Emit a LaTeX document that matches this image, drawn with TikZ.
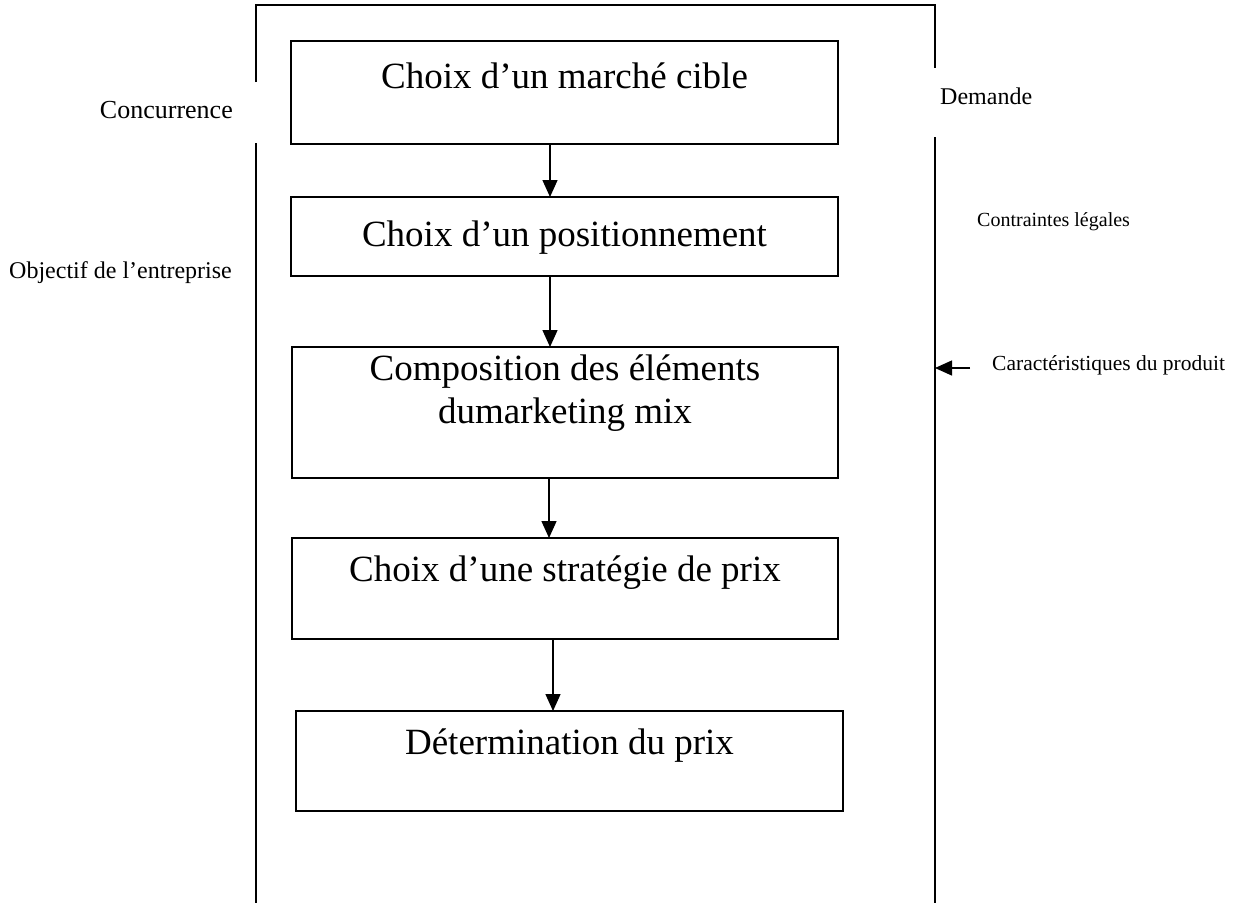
\documentclass[tikz,border=0pt]{standalone}
\usepackage{fontspec}
\setmainfont{Liberation Serif}
\usetikzlibrary{arrows.meta}

\tikzset{
  stepbox/.style={draw, line width=1.6pt, rectangle, inner sep=0pt, outer sep=0pt},
  boxtext/.style={anchor=base, inner sep=0pt, font=\fontsize{37}{43}\selectfont},
  sidetext/.style={inner sep=0pt},
  frame/.style={line width=1.6pt},
  flow/.style={line width=1.4pt, -{Triangle[length=17pt,width=15pt]}},
}

\begin{document}
\begin{tikzpicture}[x=1pt,y=-1pt]
  \useasboundingbox (0,0) rectangle (1238,903);
  \fill[white] (0,0) rectangle (1238,903);

  % frame corners
  \coordinate (ftl) at (256,5);
  \coordinate (ftr) at (935,5);

  % open frame around the steps
  \draw[frame] (256,82) -- (ftl) -- (ftr) -- (935,68);
  \draw[frame] (256,143) -- (256,903);
  \draw[frame] (935,137) -- (935,903);

  % steps
  \node[stepbox, minimum width=547pt, minimum height=103pt] (b1) at (564.5,92.5) {};
  \node[stepbox, minimum width=547pt, minimum height=79pt]  (b2) at (564.5,236.5) {};
  \node[stepbox, minimum width=546pt, minimum height=131pt] (b3) at (565,412.5) {};
  \node[stepbox, minimum width=546pt, minimum height=101pt] (b4) at (565,588.5) {};
  \node[stepbox, minimum width=547pt, minimum height=100pt] (b5) at (569.5,761) {};

  \node[boxtext] (t1)  at (564.5,88)  {Choix d’un marché cible};
  \node[boxtext] (t2)  at (564.5,246) {Choix d’un positionnement};
  \node[boxtext] (t3a) at (565,380)   {Composition des éléments};
  \node[boxtext] (t3b) at (565,423)   {dumarketing mix};
  \node[boxtext] (t4)  at (565,581)   {Choix d’une stratégie de prix};
  \node[boxtext] (t5)  at (569.5,754) {Détermination du prix};

  % flow between steps
  \draw[flow] (550,0 |- b1.south) -- (550,0 |- b2.north);
  \draw[flow] (550,0 |- b2.south) -- (550,0 |- b3.north);
  \draw[flow] (549,0 |- b3.south) -- (549,0 |- b4.north);
  \draw[flow] (553,0 |- b4.south) -- (553,0 |- b5.north);

  % surrounding factors
  \node[sidetext, anchor=east, font=\fontsize{26}{30}\selectfont] (conc) at (233,110) {Concurrence};
  \node[sidetext, anchor=west, font=\fontsize{24}{28}\selectfont] (dem) at (940,96) {Demande};
  \node[sidetext, anchor=west, font=\fontsize{20}{24}\selectfont] (leg) at (977,222) {Contraintes légales};
  \node[sidetext, anchor=east, font=\fontsize{24}{28}\selectfont] (obj) at (232,273) {Objectif de l’entreprise};
  \node[sidetext, anchor=west, font=\fontsize{21.5}{25}\selectfont] (car) at (992,365) {Caractéristiques du produit};

  \coordinate (c0) at (970,368);
  \draw[flow] (c0) -- (c0 -| ftr);
\end{tikzpicture}
\end{document}
